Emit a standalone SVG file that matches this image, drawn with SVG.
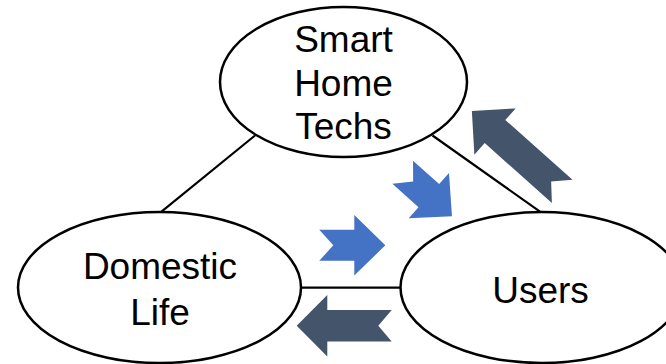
<svg xmlns="http://www.w3.org/2000/svg" width="666" height="364" viewBox="0 0 666 364">
  <style>
    .node { fill: #ffffff; stroke: #000000; stroke-width: 2.5; }
    .edge { stroke: #000000; stroke-width: 2.2; fill: none; }
    .label { font-family: "Liberation Sans", Arial, Helvetica, sans-serif; font-size: 37px; fill: #000000; text-anchor: middle; }
    .flow-in { fill: #4472C4; }
    .flow-out { fill: #44546A; }
  </style>
  <rect width="666" height="364" fill="#ffffff"/>

  <!-- connectors between the three nodes -->
  <g id="connectors">
    <line class="edge" x1="255" y1="135.5" x2="161.5" y2="211.7"/>
    <line class="edge" x1="432.5" y1="135.5" x2="540" y2="211.7"/>
    <line class="edge" x1="301" y1="287.6" x2="400.6" y2="287.6"/>
  </g>

  <g id="smart-home-techs">
    <ellipse class="node" cx="343.5" cy="82" rx="123.5" ry="75"/>
    <text class="label" x="343.5" y="52">Smart</text>
    <text class="label" x="343.5" y="96">Home</text>
    <text class="label" x="343.5" y="139">Techs</text>
  </g>

  <g id="domestic-life">
    <ellipse class="node" cx="159.5" cy="287.5" rx="141.5" ry="75.5"/>
    <text class="label" x="160" y="279">Domestic</text>
    <text class="label" x="160" y="325">Life</text>
  </g>

  <g id="users">
    <ellipse class="node" cx="541.5" cy="287.5" rx="141" ry="75.5"/>
    <text class="label" x="540.5" y="302.5">Users</text>
  </g>

  <!-- block arrows showing the direction of influence -->
  <g id="flow-arrows">
    <path class="flow-in" transform="translate(319.3 245.3)"
          d="M0,-15.5 L35,-15.5 L35,-30.3 L66,0 L35,30.3 L35,15.5 L0,15.5 L14,0 Z"/>
    <path class="flow-in" transform="translate(402.7 172.3) rotate(41.7)"
          d="M0,-15.5 L35,-15.5 L35,-30.3 L66,0 L35,30.3 L35,15.5 L0,15.5 L14,0 Z"/>
    <path class="flow-out" transform="translate(391.7 325.8) rotate(180)"
          d="M0,-15.8 L64.4,-15.8 L64.4,-30.8 L95,0 L64.4,30.8 L64.4,15.8 L0,15.8 L13.4,0 Z"/>
    <path class="flow-out" transform="translate(562.2 191.4) rotate(221.7)"
          d="M0,-15.5 L90,-15.5 L90,-31 L121,0 L90,31 L90,15.5 L0,15.5 L14.8,0 Z"/>
  </g>
</svg>
